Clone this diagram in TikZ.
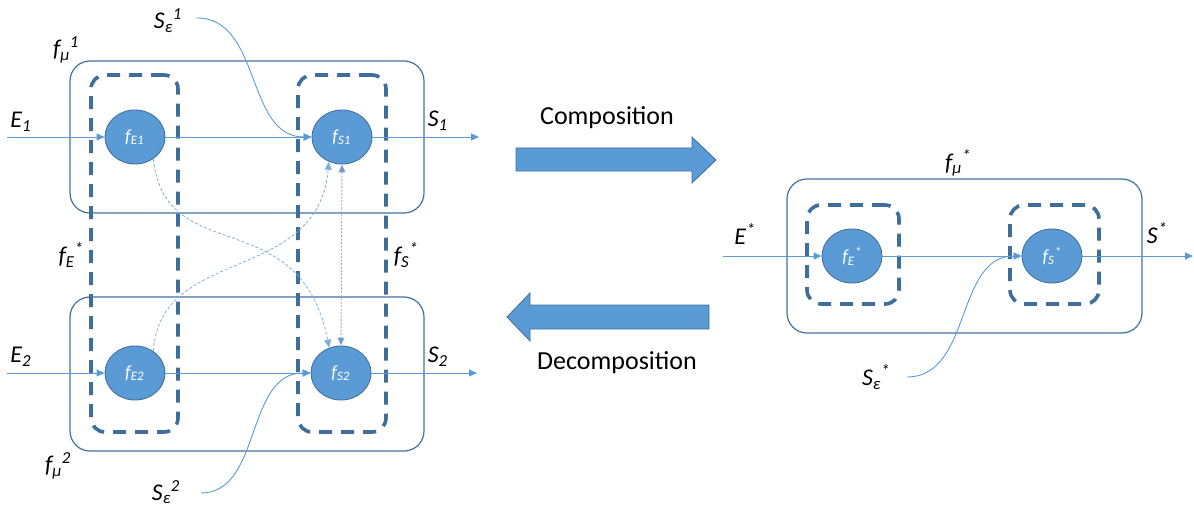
\documentclass[tikz,border=0pt]{standalone}
\usepackage{fontspec}
\setmainfont{Carlito}
\usetikzlibrary{shapes.geometric,arrows.meta}

\definecolor{fillblue}{HTML}{5B9BD5}
\definecolor{edgeblue}{HTML}{41719C}
\definecolor{boxblue}{HTML}{3F6E9C}
\definecolor{linkgrey}{HTML}{93A8C6}

% italic label: base, subscript, superscript set one after another
\newcommand{\ilbl}[3]{\textit{#1\textsubscript{#2}\textsuperscript{#3}}}

\tikzset{
  outerbox/.style={draw=edgeblue, line width=1.2pt, rounded corners=20pt,
    inner sep=0pt, fill=none},
  groupbox/.style={draw=boxblue, line width=3.6pt, rounded corners=14pt,
    dash pattern=on 13pt off 9pt, inner sep=0pt},
  fnode/.style={ellipse, draw=edgeblue, line width=0.9pt, fill=fillblue,
    minimum width=60pt, minimum height=54pt, inner sep=0pt,
    text=white, font=\fontsize{18.5}{18.5}\selectfont},
  conn/.style={draw=fillblue, line width=0.9pt,
    -{Triangle[width=7pt,length=8pt]}},
  feed/.style={draw=fillblue!80!white, line width=0.8pt,
    dash pattern=on 3pt off 2pt, -{Triangle[width=7pt,length=8pt]}},
  link/.style={draw=linkgrey, line width=0.9pt, dash pattern=on 2pt off 1.5pt,
    {Triangle[width=7pt,length=8pt,fill=fillblue]}-{Triangle[width=7pt,length=8pt,fill=fillblue]}},
  lbl/.style={font=\fontsize{24}{24}\selectfont, inner sep=0pt},
  caption/.style={font=\fontsize{26}{26}\selectfont, inner sep=0pt},
  blockarrow/.style={fill=fillblue, draw=edgeblue, line width=0.8pt},
}

\begin{document}
\begin{tikzpicture}[x=1pt,y=-1pt]
\useasboundingbox (0,0) rectangle (1194,508);

% ---------- decomposed system ----------
\node[outerbox, minimum width=354pt, minimum height=152pt] (mu1) at (247,137) {};
\node[outerbox, minimum width=354pt, minimum height=154pt] (mu2) at (247,374) {};
\node[groupbox, minimum width=87pt, minimum height=357pt] (gE) at (134.5,253.5) {};
\node[groupbox, minimum width=88pt, minimum height=357pt] (gS) at (342,253.5) {};

\node[fnode] (fE1) at (135,137) {\ilbl{f}{E1}{}};
\node[fnode] (fS1) at (342,137) {\ilbl{f}{S1}{}};
\node[fnode] (fE2) at (135,373) {\ilbl{f}{E2}{}};
\node[fnode] (fS2) at (341,373) {\ilbl{f}{S2}{}};

\coordinate (in1) at (7,137);
\coordinate (out1) at (479,137);
\coordinate (in2) at (7,373);
\coordinate (out2) at (477,373);
\coordinate (se1) at (196,18);
\coordinate (se2) at (201,493);

\draw[conn] (in1) -- (fE1);
\draw[conn] (fE1) -- (fS1);
\draw[conn] (fS1) -- (out1);
\draw[conn] (in2) -- (fE2);
\draw[conn] (fE2) -- (fS2);
\draw[conn] (fS2) -- (out2);

\draw[conn] (se1) .. controls (262,17) and (245,137) .. (fS1.west);
\draw[conn] (se2) .. controls (262,493) and (245,373) .. (fS2.west);

% cross couplings between the two subsystems
\draw[feed] (fE1.-50) .. controls (165,270) and (300,200) .. (fS2.115);
\draw[feed] (fE2.50) .. controls (160,245) and (318,285) .. (fS1.-118);
\draw[link] (fS1.south) -- (fS2.north);

\node[lbl] (lmu1) at (66,50) {\ilbl{f}{μ}{1}};
\node[lbl] (lse1) at (168,21) {\ilbl{S}{ε}{1}};
\node[lbl] (lE1) at (21,122) {\ilbl{E}{1}{}};
\node[lbl] (lS1) at (438,121) {\ilbl{S}{1}{}};
\node[lbl] (lfE) at (71,255) {\ilbl{f}{E}{*}};
\node[lbl] (lfS) at (406,255) {\ilbl{f}{S}{*}};
\node[lbl] (lE2) at (21,357) {\ilbl{E}{2}{}};
\node[lbl] (lS2) at (438,357) {\ilbl{S}{2}{}};
\node[lbl] (lmu2) at (58,466) {\ilbl{f}{μ}{2}};
\node[lbl] (lse2) at (166,492) {\ilbl{S}{ε}{2}};

% ---------- composition / decomposition ----------
\draw[blockarrow] (516,148) -- (692,148) -- (692,137) -- (716,160)
  -- (692,183) -- (692,171) -- (516,171) -- cycle;
\draw[blockarrow] (709,305) -- (530,305) -- (530,293) -- (507,317)
  -- (530,341) -- (530,329) -- (709,329) -- cycle;
\node[caption] (comp) at (607,118) {Composition};
\node[caption] (decomp) at (617,363) {Decomposition};

% ---------- composed system ----------
\node[outerbox, minimum width=355pt, minimum height=154pt] (mus) at (964.5,256) {};
\node[groupbox, minimum width=92pt, minimum height=99pt] (gEs) at (853,254.5) {};
\node[groupbox, minimum width=89pt, minimum height=99pt] (gSs) at (1054.5,254.5) {};

\node[fnode] (fEs) at (852,256) {\ilbl{f}{E}{*}};
\node[fnode] (fSs) at (1052,256) {\ilbl{f}{S}{*}};

\coordinate (ins) at (723,256);
\coordinate (outs) at (1193,256);
\coordinate (ses) at (907,377);

\draw[conn] (ins) -- (fEs);
\draw[conn] (fEs) -- (fSs);
\draw[conn] (fSs) -- (outs);
\draw[conn] (ses) .. controls (972,377) and (955,256) .. (fSs.west);

\node[lbl] (lmus) at (958,163) {\ilbl{f}{μ}{*}};
\node[lbl] (lEs) at (745,236) {\ilbl{E}{}{*}};
\node[lbl] (lSs) at (1157,235) {\ilbl{S}{}{*}};
\node[lbl] (lses) at (876,377) {\ilbl{S}{ε}{*}};
\end{tikzpicture}
\end{document}
